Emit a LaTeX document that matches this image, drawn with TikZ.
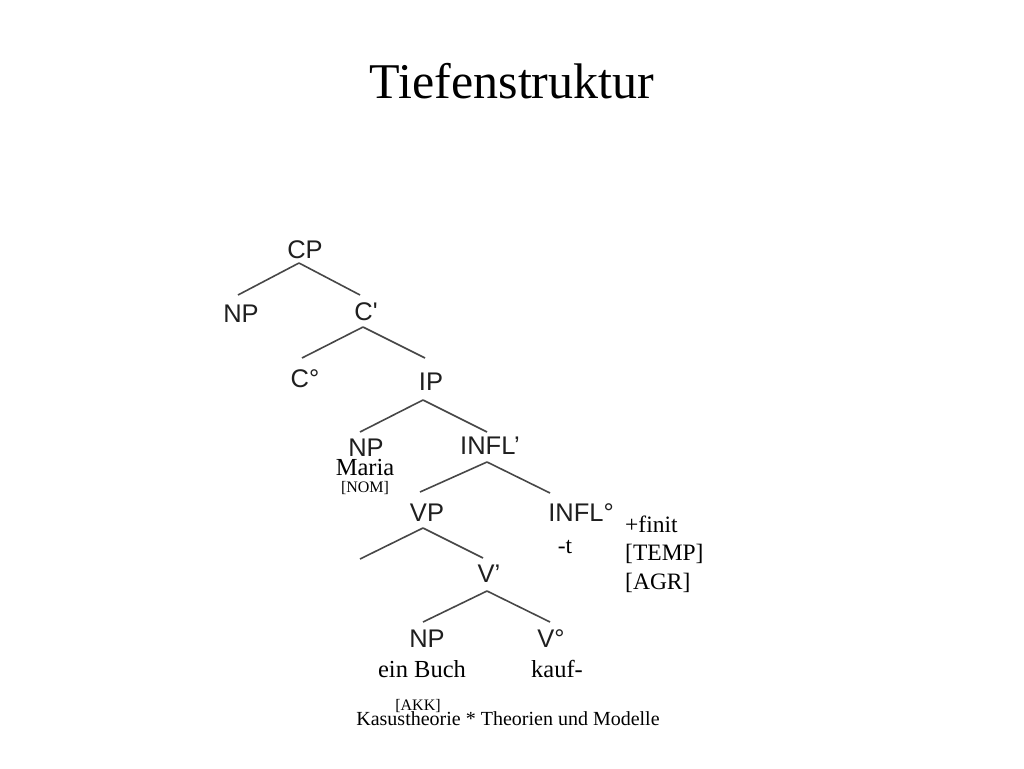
\documentclass[tikz,border=0pt]{standalone}
\usepackage{fontspec}
\setmainfont{Liberation Serif}
\newfontfamily\treefont{Liberation Sans}
\begin{document}
\begin{tikzpicture}[x=1pt,y=-1pt,
  cat/.style={inner sep=0pt,anchor=base,text=black!88,font=\treefont\fontsize{25.5}{25}\selectfont},
  word/.style={inner sep=0pt,anchor=base,font=\fontsize{24.5}{25}\selectfont},
  feat/.style={inner sep=0pt,anchor=base west,font=\fontsize{23.5}{24}\selectfont},
  casus/.style={inner sep=0pt,anchor=base,font=\fontsize{16}{16}\selectfont},
  branch/.style={draw=black!72,line width=1.6pt}]
\useasboundingbox (0,0) rectangle (1024,768);
% title
\node[inner sep=0pt,anchor=base,font=\fontsize{50}{50}\selectfont] (title) at (512,98) {Tiefenstruktur};
% tree categories
\node[cat] (CP) at (305,258) {CP};
\node[cat] (NP1) at (241,322) {NP};
\node[cat] (Cbar) at (366,320) {C\textquotesingle};
\node[cat] (Czero) at (305,387) {C°};
\node[cat] (IP) at (431,390) {IP};
\node[cat] (NP2) at (366,456) {NP};
\node[cat] (Ibar) at (490,454) {INFL’};
\node[cat] (VP) at (427,521) {VP};
\node[cat] (Izero) at (581,521) {INFL°};
\node[cat] (Vbar) at (489,582) {V’};
\node[cat] (NP3) at (427,647) {NP};
\node[cat] (Vzero) at (551,647) {V°};
% words and features
\node[word] (maria) at (365,475) {Maria};
\node[casus] (nom) at (365,492) {[NOM]};
\node[feat] (finit) at (625,532) {+finit};
\node[feat] (temp) at (625,560) {[TEMP]};
\node[feat] (agr) at (625,589) {[AGR]};
\node[word,font=\fontsize{23.5}{24}\selectfont] (t) at (565,553) {-t};
\node[word] (buch) at (422,677) {ein Buch};
\node[word] (kauf) at (557,677) {kauf-};
\node[casus] (akk) at (418,710) {[AKK]};
\node[inner sep=0pt,anchor=base,font=\fontsize{20}{20}\selectfont] (foot) at (508,725) {Kasustheorie * Theorien und Modelle};
% branch end points
\coordinate (cpA) at (299,263);
\coordinate (np1T) at (238,295);
\coordinate (cbT) at (360,295);
\coordinate (cbA) at (363,327);
\coordinate (czT) at (302,358);
\coordinate (ipT) at (425,358);
\coordinate (ipA) at (423,400);
\coordinate (np2T) at (360,432);
\coordinate (ibT) at (487,432);
\coordinate (ibA) at (487,462);
\coordinate (vpT) at (420,492);
\coordinate (izT) at (550,493);
\coordinate (vpA) at (423,528);
\coordinate (specT) at (360,559);
\coordinate (vbT) at (483,558);
\coordinate (vbA) at (487,591);
\coordinate (np3T) at (423,622);
\coordinate (vzT) at (550,622);
% branches
\draw[branch] (cpA) -- (np1T);
\draw[branch] (cpA) -- (cbT);
\draw[branch] (cbA) -- (czT);
\draw[branch] (cbA) -- (ipT);
\draw[branch] (ipA) -- (np2T);
\draw[branch] (ipA) -- (ibT);
\draw[branch] (ibA) -- (vpT);
\draw[branch] (ibA) -- (izT);
\draw[branch] (vpA) -- (specT);
\draw[branch] (vpA) -- (vbT);
\draw[branch] (vbA) -- (np3T);
\draw[branch] (vbA) -- (vzT);
\end{tikzpicture}
\end{document}
